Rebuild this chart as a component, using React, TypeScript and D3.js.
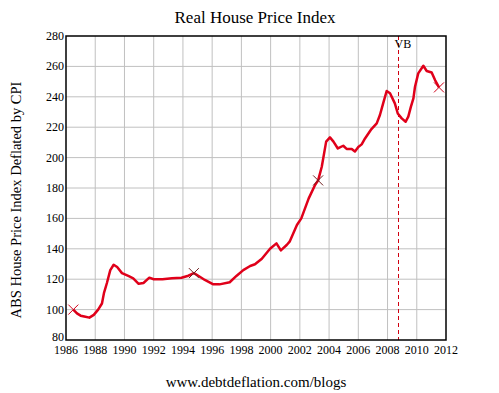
import React from "react";
import * as d3 from "d3";

// quarterly-ish readings
const years = [
  1986.5, 1986.75, 1987.0, 1987.25, 1987.6, 1987.9, 1988.2, 1988.46, 1988.6, 1988.8,
  1989.03, 1989.26, 1989.5, 1989.83, 1990.3, 1990.6, 1990.97, 1991.3, 1991.7, 1992.0,
  1992.6, 1993.25, 1993.9, 1994.37, 1994.75, 1995.05, 1995.5, 1996.08, 1996.5, 1997.2,
  1997.68, 1998.13, 1998.6, 1998.93, 1999.4, 1999.96, 2000.4, 2000.7, 2001.1, 2001.3,
  2001.8, 2002.1, 2002.6, 2003.04, 2003.25, 2003.5, 2003.8, 2004.06, 2004.3, 2004.6,
  2004.97, 2005.2, 2005.55, 2005.77, 2006.0, 2006.23, 2006.46, 2006.9, 2007.26, 2007.48,
  2007.7, 2007.94, 2008.17, 2008.5, 2008.7, 2008.97, 2009.24, 2009.42, 2009.6, 2009.77,
  2009.88, 2010.1, 2010.45, 2010.68, 2011.02, 2011.25, 2011.52,
];
const values = [
  100, 97.5, 96, 95.5, 94.7, 96.5, 100, 104, 111, 117.5,
  126, 129.5, 128, 124, 122, 120.6, 117, 117.5, 121, 120,
  120, 120.6, 121, 122.3, 124, 122.3, 119.5, 116.6, 116.6, 118,
  122.3, 126, 128.7, 129.8, 133.5, 140, 143.6, 139, 142.5, 144.7,
  155.7, 160, 173, 182, 185, 194, 210.5, 213.3, 210.5, 206,
  207.8, 205.7, 205.7, 204, 207, 208.7, 212.6, 218.8, 222.5, 228,
  235.7, 243.8, 242.3, 235.7, 229, 225.8, 223.6, 227, 233.5, 239,
  246.6, 255.4, 260.4, 257, 256, 251, 246.2,
];
const markerYears = [1986.5, 1994.75, 2003.25, 2011.52];
const markerValues = [100, 124, 185, 246.2];
const xTicks = [1986, 1988, 1990, 1992, 1994, 1996, 1998, 2000, 2002, 2004, 2006, 2008, 2010, 2012];
const yTicks = [80, 100, 120, 140, 160, 180, 200, 220, 240, 260, 280];
const vbYear = 2008.75;

const font = "'Liberation Serif', 'Times New Roman', serif";

export default function App() {
  const left = 66, right = 446, top = 36, bottom = 340;
  const x = d3.scaleLinear().domain([1986, 2012]).range([left, right]);
  const y = d3.scaleLinear().domain([80, 280]).range([bottom, top]);
  const pts = years.map((yr, i) => [yr, values[i]] as [number, number]);
  const line = d3
    .line<[number, number]>()
    .x((d) => x(d[0]))
    .y((d) => y(d[1]))
    .curve(d3.curveLinear);
  const txt = { fontFamily: font };

  return (
    <svg
      width={499}
      height={393}
      style={{ position: "absolute", left: 0, top: 0, background: "#fff" }}
    >
      <text x={255} y={23} textAnchor="middle" fontSize={17} fill="#000" style={txt}>
        Real House Price Index
      </text>

      {/* grid */}
      {xTicks.slice(1, -1).map((t) => (
        <line key={"gx" + t} x1={x(t)} x2={x(t)} y1={top} y2={bottom} stroke="#c0c0c0" strokeWidth={1} />
      ))}
      {yTicks.slice(1, -1).map((t) => (
        <line key={"gy" + t} x1={left} x2={right} y1={y(t)} y2={y(t)} stroke="#c0c0c0" strokeWidth={1} />
      ))}

      {/* VB marker */}
      <line x1={x(vbYear)} x2={x(vbYear)} y1={top} y2={bottom} stroke="#d00010" strokeWidth={1} strokeDasharray="4,3" />
      <text x={x(vbYear) - 4} y={48} fontSize={12} fill="#000" style={txt}>VB</text>

      <path d={line(pts) || ""} fill="none" stroke="#e0001a" strokeWidth={2.5} strokeLinejoin="round" />

      {markerYears.map((yr, i) => {
        const cx = x(yr), cy = y(markerValues[i]);
        const s = 5;
        return (
          <g key={"m" + i} stroke={i === 0 || i === 3 ? "#d00018" : "#702020"} strokeWidth={1}>
            <line x1={cx - s} y1={cy - s} x2={cx + s} y2={cy + s} />
            <line x1={cx - s} y1={cy + s} x2={cx + s} y2={cy - s} />
          </g>
        );
      })}

      <rect x={left} y={top} width={right - left} height={bottom - top} fill="none" stroke="#000" strokeWidth={1.5} />

      {yTicks.map((t) => (
        <text key={"yl" + t} x={left - 2} y={y(t) + (t === 80 ? 1 : 4)} textAnchor="end" fontSize={12} fill="#000" style={txt}>
          {t}
        </text>
      ))}
      {xTicks.map((t) => (
        <text key={"xl" + t} x={x(t)} y={354} textAnchor="middle" fontSize={12} fill="#000" style={txt}>
          {t}
        </text>
      ))}

      <text
        transform="translate(21,200) rotate(-90)"
        textAnchor="middle"
        fontSize={14.5}
        fill="#000"
        style={txt}
      >
        ABS House Price Index Deflated by CPI
      </text>
      <text x={256} y={387} textAnchor="middle" fontSize={15} fill="#000" style={txt}>
        www.debtdeflation.com/blogs
      </text>
    </svg>
  );
}
